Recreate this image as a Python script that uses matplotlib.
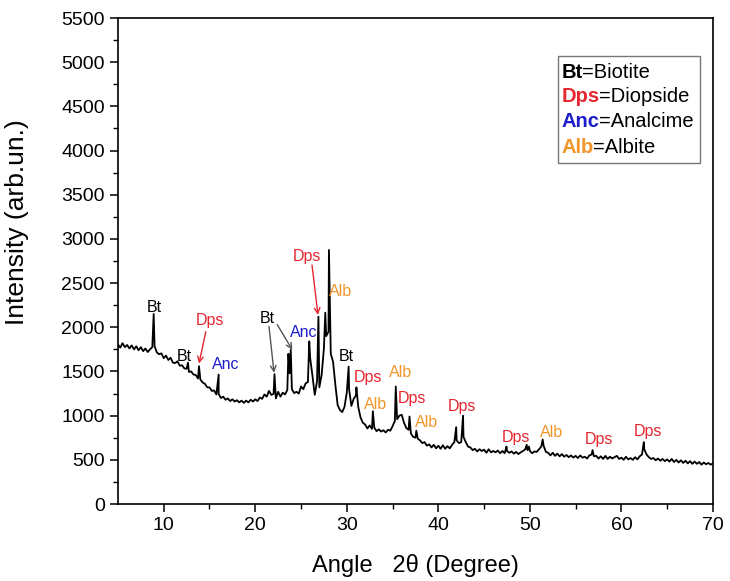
import numpy as np
import matplotlib
matplotlib.use("Agg")
import matplotlib.pyplot as plt
from matplotlib.patches import Rectangle

plt.rcParams["font.family"] = ["Liberation Sans", "DejaVu Sans"]

# background counts read every 0.25 deg from 5 to 70
angle_step = 0.25
base_counts = [
    1805, 1770, 1820, 1775,  # 5
    1800, 1760, 1795, 1750,  # 6
    1785, 1740, 1775, 1730,  # 7
    1760, 1720, 1750, 1775,  # 8
    1785, 1715, 1695, 1705,  # 9
    1650, 1680, 1630, 1655,  # 10
    1600, 1595, 1615, 1565,  # 11
    1570, 1535, 1530, 1495,  # 12
    1500, 1465, 1460, 1420,  # 13
    1410, 1375, 1360, 1320,  # 14
    1320, 1280, 1285, 1240,  # 15
    1245, 1200, 1215, 1180,  # 16
    1195, 1165, 1185, 1160,  # 17
    1175, 1150, 1170, 1145,  # 18
    1170, 1150, 1180, 1160,  # 19
    1185, 1165, 1205, 1190,  # 20
    1240, 1215, 1280, 1235,  # 21
    1245, 1195, 1270, 1215,  # 22
    1260, 1240, 1290, 1480,  # 23
    1300, 1255, 1270, 1250,  # 24
    1330, 1300, 1365, 1380,  # 25
    1650, 1450, 1235, 1390,  # 26
    1320, 1460, 1760, 1900,  # 27
    1950, 1700, 1610, 1350,  # 28
    1120, 1065, 1040, 1100,  # 29
    1260, 1300, 1110, 1190,  # 30
    1230, 1100, 980, 920,    # 31
    900, 855, 890, 850,      # 32
    865, 825, 845, 820,      # 33
    835, 810, 840, 830,      # 34
    880, 940, 960, 1000,     # 35
    1010, 920, 860, 840,     # 36
    800, 760, 750, 740,      # 37
    720, 690, 700, 660,      # 38
    675, 640, 670, 630,      # 39
    660, 625, 665, 625,      # 40
    655, 630, 670, 700,      # 41
    720, 690, 700, 760,      # 42
    700, 650, 640, 610,      # 43
    625, 595, 620, 600,      # 44
    615, 580, 620, 585,      # 45
    600, 585, 605, 575,      # 46
    600, 575, 600, 580,      # 47
    595, 570, 590, 565,      # 48
    585, 600, 620, 610,      # 49
    600, 575, 595, 590,      # 50
    620, 650, 660, 590,      # 51
    580, 550, 580, 545,      # 52
    570, 540, 565, 535,      # 53
    555, 530, 550, 525,      # 54
    545, 520, 550, 525,      # 55
    535, 515, 550, 560,      # 56
    540, 545, 515, 540,      # 57
    510, 545, 510, 535,      # 58
    515, 530, 545, 510,      # 59
    525, 500, 535, 505,      # 60
    520, 500, 530, 505,      # 61
    540, 560, 620, 560,      # 62
    530, 510, 520, 495,      # 63
    515, 490, 510, 485,      # 64
    505, 480, 510, 475,      # 65
    500, 470, 495, 465,      # 66
    490, 460, 485, 455,      # 67
    480, 455, 475, 445,      # 68
    470, 450, 465, 445,      # 69
    460,                     # 70
]

# peak tips
peak_pos = [8.9, 12.65, 13.85, 16.0, 22.1, 23.62, 23.88, 25.9, 26.9, 27.65,
            28.05, 30.2, 31.05, 32.85, 35.35, 36.85, 37.6, 41.95, 42.7,
            47.45, 49.65, 49.9, 51.4, 56.85, 62.45]
peak_top = [2150, 1600, 1560, 1465, 1470, 1700, 1745, 1840, 2120, 2165,
            2875, 1555, 1320, 1050, 1330, 990, 830, 870, 1000,
            650, 670, 650, 730, 610, 700]

# phase labels: text, angle, intensity, phase
labels = [
    ("Bt", 8.97, 2227, "Bt"), ("Bt", 12.2, 1671, "Bt"), ("Dps", 15.0, 2074, "Dps"),
    ("Anc", 16.8, 1578, "Anc"), ("Bt", 21.3, 2104, "Bt"), ("Anc", 25.3, 1942, "Anc"),
    ("Dps", 25.7, 2806, "Dps"), ("Alb", 29.3, 2404, "Alb"), ("Bt", 30.0, 1671, "Bt"),
    ("Dps", 32.3, 1430, "Dps"), ("Alb", 33.1, 1127, "Alb"), ("Alb", 35.9, 1488, "Alb"),
    ("Dps", 37.1, 1195, "Dps"), ("Alb", 38.7, 924, "Alb"), ("Dps", 42.6, 1108, "Dps"),
    ("Dps", 48.5, 755, "Dps"), ("Alb", 52.4, 815, "Alb"), ("Dps", 57.5, 732, "Dps"),
    ("Dps", 62.9, 826, "Dps"),
]

# arrows: (x_start, y_start, x_end, y_end, phase)
arrows = [
    (14.6, 1950, 13.85, 1590, "Dps"),
    (21.5, 2010, 22.05, 1485, "Bt"),
    (22.4, 2030, 24.05, 1745, "Bt"),
    (26.2, 2705, 26.85, 2140, "Dps"),
]

phase_names = ["Bt", "Dps", "Anc", "Alb"]
phase_full = ["=Biotite", "=Diopside", "=Analcime", "=Albite"]
phase_color = {"Bt": "black", "Dps": "#e5262f", "Anc": "#1d1dcc", "Alb": "#f0962a"}
arrow_color = {"Bt": "#555555", "Dps": "#e5262f"}

angles = np.arange(len(base_counts)) * angle_step + 5.0
x = np.concatenate([angles, peak_pos])
y = np.concatenate([base_counts, peak_top])
order = np.argsort(x)
x, y = x[order], y[order]

fig = plt.figure(figsize=(7.3, 5.81), dpi=100)
ax = fig.add_axes([0.1616, 0.1325, 0.815, 0.8365])

ax.plot(x, y, color="black", lw=1.3)

for txt, a, c, ph in labels:
    ax.text(a, c, txt, color=phase_color[ph], fontsize=11.5, ha="center", va="center")

for x0, y0, x1, y1, ph in arrows:
    ax.annotate("", xy=(x1, y1), xytext=(x0, y0),
                arrowprops=dict(arrowstyle="->", color=arrow_color[ph], lw=1.0,
                                mutation_scale=10, shrinkA=0, shrinkB=0))

# legend box
ax.add_patch(Rectangle((0.74, 0.701), 0.238, 0.221, transform=ax.transAxes,
                       fill=False, edgecolor="#777777", lw=1.0))
rows_y = [0.888, 0.838, 0.787, 0.733]
for ph, full, ry in zip(phase_names, phase_full, rows_y):
    t = ax.text(0.745, ry, ph, color=phase_color[ph], fontsize=14.5, fontweight="bold",
                transform=ax.transAxes, ha="left", va="center")
    ax.annotate(full, xy=(1, 0), xycoords=t, ha="left", va="bottom",
                fontsize=14.5, color="black")

ax.set_xlim(5, 70)
ax.set_ylim(0, 5500)
ax.set_xticks([10, 20, 30, 40, 50, 60, 70])
ax.set_xticks([15, 25, 35, 45, 55, 65], minor=True)
ax.set_yticks(np.arange(0, 5501, 500))
ax.set_yticks(np.arange(250, 5500, 500), minor=True)
ax.tick_params(which="major", direction="out", length=6, width=1.1, labelsize=14)
ax.tick_params(which="minor", direction="out", length=3.5, width=1.0)
for s in ax.spines.values():
    s.set_linewidth(1.2)

ax.set_xlabel("Angle   2θ (Degree)", fontsize=17, labelpad=14)
ax.set_ylabel("Intensity (arb.un.)", fontsize=19)
ax.yaxis.set_label_coords(-0.15, 0.58)

fig.savefig("out.png", dpi=100)
